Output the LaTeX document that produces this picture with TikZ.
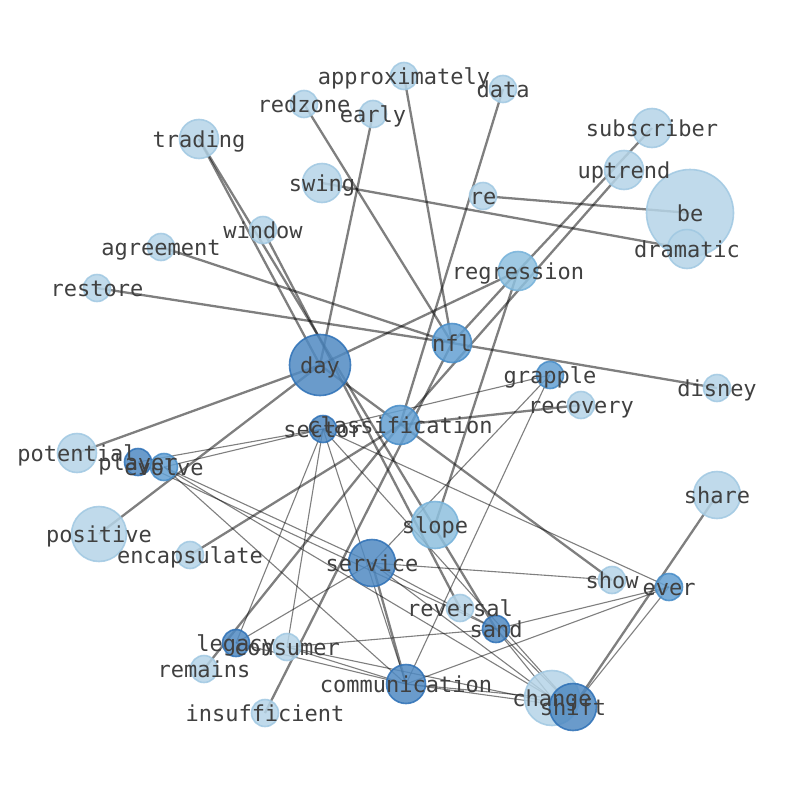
\documentclass[tikz,border=0pt]{standalone}
\usepackage{fontspec}
\newfontfamily\wordfont{DejaVu Sans Mono}
\usepackage{tikz}
\pgfdeclarelayer{edges}
\pgfsetlayers{edges,main}
\definecolor{toneAf}{RGB}{181,212,231}
\definecolor{toneAd}{RGB}{160,200,226}
\definecolor{toneBf}{RGB}{142,192,222}
\definecolor{toneBd}{RGB}{118,178,218}
\definecolor{toneCf}{RGB}{100,160,210}
\definecolor{toneCd}{RGB}{70,140,200}
\definecolor{toneDf}{RGB}{80,138,194}
\definecolor{toneDd}{RGB}{45,112,182}

\begin{document}
\begin{tikzpicture}[x=1pt,y=-1pt,
    vtx/.style={circle,inner sep=0pt,line width=1.6pt,fill opacity=.85,draw opacity=.85},
    tone1/.style={vtx,fill=toneAf,draw=toneAd},
    tone2/.style={vtx,fill=toneBf,draw=toneBd},
    tone3/.style={vtx,fill=toneCf,draw=toneCd},
    tone4/.style={vtx,fill=toneDf,draw=toneDd},
    rA/.style={minimum size=27pt},
    rB/.style={minimum size=39pt},
    rC/.style={minimum size=47pt},
    rD/.style={minimum size=55pt},
    rE/.style={minimum size=61pt},
    rF/.style={minimum size=87pt},
    heavy/.style={line width=2.3pt,draw=black,draw opacity=.5},
    slim/.style={line width=1.1pt,draw=black,draw opacity=.5},
    word/.style={font=\wordfont\fontsize{22}{26}\selectfont,text=black!75,
        text height=16pt,text depth=0pt,inner sep=0pt}]
\useasboundingbox (0,0) rectangle (794,790);

\node[tone1,rA] (approximately) at (404,76) {};
\node[tone1,rA] (data) at (503,89) {};
\node[tone1,rA] (redzone) at (304,104) {};
\node[tone1,rA] (early) at (373,114) {};
\node[tone1,rB] (trading) at (199,139) {};
\node[tone1,rB] (subscriber) at (652,128) {};
\node[tone1,rB] (uptrend) at (624,170) {};
\node[tone1,rB] (swing) at (322,183) {};
\node[tone1,rA] (re) at (483,196) {};
\node[tone1,rF] (be) at (690,213) {};
\node[tone1,rB] (dramatic) at (687,249) {};
\node[tone1,rA] (window) at (263,230) {};
\node[tone1,rA] (agreement) at (161,247) {};
\node[tone2,rB] (regression) at (518,271) {};
\node[tone1,rA] (restore) at (97,288) {};
\node[tone3,rB] (nfl) at (452,343) {};
\node[tone4,rE] (day) at (320,365) {};
\node[tone3,rA] (grapple) at (550,375) {};
\node[tone1,rA] (disney) at (717,388) {};
\node[tone1,rA] (recovery) at (581,405) {};
\node[tone3,rB] (classification) at (400,425) {};
\node[tone4,rA] (sector) at (323,429) {};
\node[tone1,rB] (potential) at (77,453) {};
\node[tone4,rA] (player) at (138,462) {};
\node[tone3,rA] (evolve) at (164,467) {};
\node[tone1,rC] (share) at (717,495) {};
\node[tone2,rC] (slope) at (435,525) {};
\node[tone1,rD] (positive) at (99,534) {};
\node[tone1,rA] (encapsulate) at (190,555) {};
\node[tone4,rC] (service) at (372,563) {};
\node[tone1,rA] (show) at (612,580) {};
\node[tone3,rA] (ever) at (669,587) {};
\node[tone1,rA] (reversal) at (460,608) {};
\node[tone4,rA] (sand) at (496,629) {};
\node[tone1,rA] (consumer) at (287,647) {};
\node[tone4,rA] (legacy) at (236,643) {};
\node[tone1,rA] (remains) at (204,669) {};
\node[tone4,rB] (communication) at (406,684) {};
\node[tone1,rD] (change) at (552,698) {};
\node[tone4,rC] (shift) at (573,707) {};
\node[tone1,rA] (insufficient) at (265,713) {};

\begin{pgfonlayer}{edges}
\draw[heavy] (approximately.center) -- (nfl.center);
\draw[heavy] (redzone.center) -- (nfl.center);
\draw[heavy] (agreement.center) -- (nfl.center);
\draw[heavy] (restore.center) -- (nfl.center) -- (disney.center);
\draw[heavy] (subscriber.center) -- (regression.center) -- (nfl.center);
\draw[heavy] (insufficient.center) -- (nfl.center);
\draw[heavy] (early.center) -- (day.center);
\draw[heavy] (trading.center) -- (day.center);
\draw[heavy] (trading.center) -- (sand.center);
\draw[heavy] (window.center) -- (reversal.center);
\draw[heavy] (regression.center) -- (day.center);
\draw[heavy] (regression.center) -- (slope.center);
\draw[heavy] (potential.center) -- (day.center);
\draw[heavy] (positive.center) -- (day.center);
\draw[heavy] (day.center) -- (show.center);
\draw[heavy] (data.center) -- (classification.center);
\draw[heavy] (uptrend.center) -- (classification.center);
\draw[heavy] (remains.center) -- (classification.center);
\draw[heavy] (encapsulate.center) -- (classification.center);
\draw[heavy] (recovery.center) -- (classification.center);
\draw[heavy] (swing.center) -- (dramatic.center);
\draw[heavy] (re.center) -- (be.center);
\draw[heavy] (service.center) -- (communication.center);
\draw[heavy] (share.center) -- (shift.center);
\draw[slim] (player.center) -- (sector.center);
\draw[slim] (evolve.center) -- (sector.center) -- (grapple.center);
\draw[slim] (player.center) -- (sand.center);
\draw[slim] (evolve.center) -- (service.center);
\draw[slim] (evolve.center) -- (change.center);
\draw[slim] (evolve.center) -- (communication.center);
\draw[slim] (sector.center) -- (legacy.center);
\draw[slim] (sector.center) -- (consumer.center);
\draw[slim] (sector.center) -- (communication.center);
\draw[slim] (sector.center) -- (shift.center);
\draw[slim] (sector.center) -- (ever.center);
\draw[slim] (legacy.center) -- (service.center);
\draw[slim] (legacy.center) -- (communication.center);
\draw[slim] (consumer.center) -- (communication.center);
\draw[slim] (consumer.center) -- (shift.center);
\draw[slim] (consumer.center) -- (sand.center);
\draw[slim] (grapple.center) -- (communication.center);
\draw[slim] (grapple.center) -- (service.center);
\draw[slim] (service.center) -- (show.center);
\draw[slim] (service.center) -- (sand.center);
\draw[slim] (service.center) -- (change.center);
\draw[slim] (sand.center) -- (ever.center);
\draw[slim] (sand.center) -- (change.center);
\draw[slim] (sand.center) -- (shift.center);
\draw[slim] (communication.center) -- (ever.center);
\draw[slim] (communication.center) -- (change.center);
\draw[slim] (communication.center) -- (shift.center);
\draw[slim] (ever.center) -- (shift.center);
\end{pgfonlayer}

\foreach \w in {approximately,data,redzone,early,trading,subscriber,uptrend,swing,re,be,
    dramatic,window,agreement,regression,restore,nfl,day,grapple,disney,recovery,
    classification,sector,potential,player,evolve,share,slope,positive,encapsulate,
    service,show,ever,reversal,sand,consumer,legacy,remains,communication,change,shift,insufficient}
  \node[word] (\w-t) at (\w) {\w};
\end{tikzpicture}
\end{document}
